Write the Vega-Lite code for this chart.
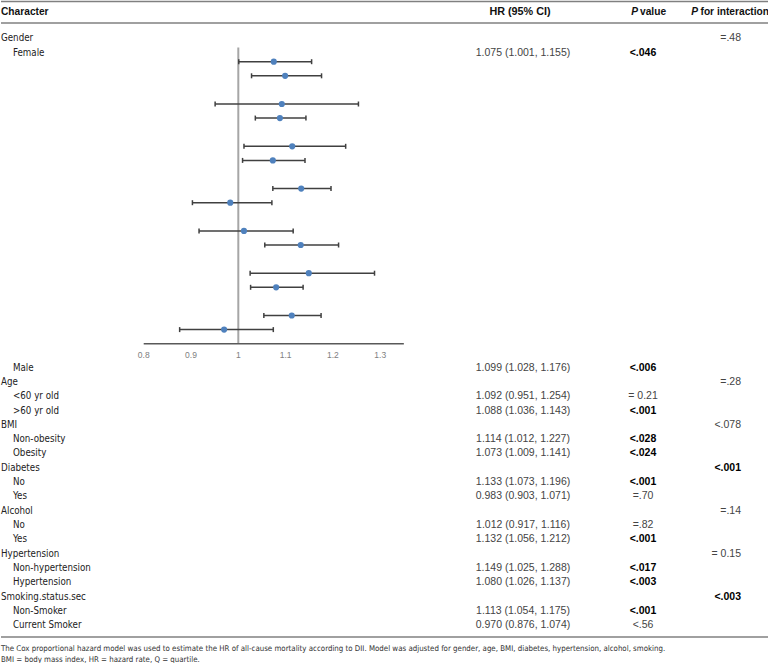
{
  "$schema": "https://vega.github.io/schema/vega-lite/v6.json",
  "width": 768,
  "height": 663,
  "autosize": {"type": "pad"},
  "padding": 0,
  "background": "white",
  "config": {"view": {"stroke": null}, "axis": {"disable": true}},
  "datasets": {
    "rows": [
      {"u": 1, "label": "Gender", "level": "group", "pint": "=.48", "pintBold": false},
      {"u": 2, "label": "Female", "level": "sub", "ci": "1.075 (1.001, 1.155)", "p": "<.046", "pBold": true, "hr": 1.075, "lo": 1.001, "hi": 1.155, "slot": 0},
      {"u": 24, "label": "Male", "level": "sub", "ci": "1.099 (1.028, 1.176)", "p": "<.006", "pBold": true, "hr": 1.099, "lo": 1.028, "hi": 1.176, "slot": 1},
      {"u": 25, "label": "Age", "level": "group", "pint": "=.28", "pintBold": false},
      {"u": 26, "label": "<60 yr old", "level": "sub", "ci": "1.092 (0.951, 1.254)", "p": "= 0.21", "pBold": false, "hr": 1.092, "lo": 0.951, "hi": 1.254, "slot": 3},
      {"u": 27, "label": ">60 yr old", "level": "sub", "ci": "1.088 (1.036, 1.143)", "p": "<.001", "pBold": true, "hr": 1.088, "lo": 1.036, "hi": 1.143, "slot": 4},
      {"u": 28, "label": "BMI", "level": "group", "pint": "<.078", "pintBold": false},
      {"u": 29, "label": "Non-obesity", "level": "sub", "ci": "1.114 (1.012, 1.227)", "p": "<.028", "pBold": true, "hr": 1.114, "lo": 1.012, "hi": 1.227, "slot": 6},
      {"u": 30, "label": "Obesity", "level": "sub", "ci": "1.073 (1.009, 1.141)", "p": "<.024", "pBold": true, "hr": 1.073, "lo": 1.009, "hi": 1.141, "slot": 7},
      {"u": 31, "label": "Diabetes", "level": "group", "pint": "<.001", "pintBold": true},
      {"u": 32, "label": "No", "level": "sub", "ci": "1.133 (1.073, 1.196)", "p": "<.001", "pBold": true, "hr": 1.133, "lo": 1.073, "hi": 1.196, "slot": 9},
      {"u": 33, "label": "Yes", "level": "sub", "ci": "0.983 (0.903, 1.071)", "p": "=.70", "pBold": false, "hr": 0.983, "lo": 0.903, "hi": 1.071, "slot": 10},
      {"u": 34, "label": "Alcohol", "level": "group", "pint": "=.14", "pintBold": false},
      {"u": 35, "label": "No", "level": "sub", "ci": "1.012 (0.917, 1.116)", "p": "=.82", "pBold": false, "hr": 1.012, "lo": 0.917, "hi": 1.116, "slot": 12},
      {"u": 36, "label": "Yes", "level": "sub", "ci": "1.132 (1.056, 1.212)", "p": "<.001", "pBold": true, "hr": 1.132, "lo": 1.056, "hi": 1.212, "slot": 13},
      {"u": 37, "label": "Hypertension", "level": "group", "pint": "= 0.15", "pintBold": false},
      {"u": 38, "label": "Non-hypertension", "level": "sub", "ci": "1.149 (1.025, 1.288)", "p": "<.017", "pBold": true, "hr": 1.149, "lo": 1.025, "hi": 1.288, "slot": 15},
      {"u": 39, "label": "Hypertension", "level": "sub", "ci": "1.080 (1.026, 1.137)", "p": "<.003", "pBold": true, "hr": 1.080, "lo": 1.026, "hi": 1.137, "slot": 16},
      {"u": 40, "label": "Smoking.status.sec", "level": "group", "pint": "<.003", "pintBold": true},
      {"u": 41, "label": "Non-Smoker", "level": "sub", "ci": "1.113 (1.054, 1.175)", "p": "<.001", "pBold": true, "hr": 1.113, "lo": 1.054, "hi": 1.175, "slot": 18},
      {"u": 42, "label": "Current Smoker", "level": "sub", "ci": "0.970 (0.876, 1.074)", "p": "<.56", "pBold": false, "hr": 0.970, "lo": 0.876, "hi": 1.074, "slot": 19}
    ],
    "lines": [{"u": -1.56}, {"u": -0.06}, {"u": 42.82}],
    "notes": [
      {"u": 43.67, "text": "The Cox proportional hazard model was used to estimate the HR of all-cause mortality according to DII. Model was adjusted for gender, age, BMI, diabetes, hypertension, alcohol, smoking."},
      {"u": 44.45, "text": "BMI = body mass index, HR = hazard rate, Q = quartile."}
    ],
    "ticks": [{"t": 0.8}, {"t": 0.9}, {"t": 1.0}, {"t": 1.1}, {"t": 1.2}, {"t": 1.3}],
    "one": [{}]
  },
  "layer": [
    {
      "layer": [
        {
          "data": {"name": "lines"},
          "mark": {"type": "rule", "color": "#808080", "strokeWidth": 1.5},
          "encoding": {
            "y": {"field": "u", "type": "quantitative", "scale": {"domain": [-1.666, 44.63], "reverse": true, "nice": false, "zero": false}, "axis": null}
          }
        },
        {
          "data": {"name": "rows"},
          "transform": [{"filter": "datum.level === 'group'"}],
          "mark": {"type": "text", "align": "left", "baseline": "middle", "font": "DejaVu Sans Condensed, DejaVu Sans, sans-serif", "fontSize": 9.7, "color": "#222222"},
          "encoding": {
            "x": {"datum": 0, "type": "quantitative", "scale": {"domain": [0, 1, 2, 3], "range": [0, 522, 642, 740], "nice": false, "zero": false}, "axis": null},
            "y": {"field": "u", "type": "quantitative"},
            "text": {"field": "label"}
          }
        },
        {
          "data": {"name": "rows"},
          "transform": [{"filter": "datum.level === 'sub'"}],
          "mark": {"type": "text", "align": "left", "baseline": "middle", "dx": 12, "font": "DejaVu Sans Condensed, DejaVu Sans, sans-serif", "fontSize": 9.7, "color": "#222222"},
          "encoding": {
            "x": {"datum": 0, "type": "quantitative"},
            "y": {"field": "u", "type": "quantitative"},
            "text": {"field": "label"}
          }
        },
        {
          "data": {"name": "rows"},
          "transform": [{"filter": "isValid(datum.ci)"}],
          "mark": {"type": "text", "align": "center", "baseline": "middle", "font": "Liberation Sans, Arial, sans-serif", "fontSize": 10.5, "color": "#444444"},
          "encoding": {
            "x": {"datum": 1, "type": "quantitative"},
            "y": {"field": "u", "type": "quantitative"},
            "text": {"field": "ci"}
          }
        },
        {
          "data": {"name": "rows"},
          "transform": [{"filter": "isValid(datum.p) && !datum.pBold"}],
          "mark": {"type": "text", "align": "center", "baseline": "middle", "font": "Liberation Sans, Arial, sans-serif", "fontSize": 10.5, "color": "#444444"},
          "encoding": {
            "x": {"datum": 2, "type": "quantitative"},
            "y": {"field": "u", "type": "quantitative"},
            "text": {"field": "p"}
          }
        },
        {
          "data": {"name": "rows"},
          "transform": [{"filter": "isValid(datum.p) && datum.pBold"}],
          "mark": {"type": "text", "align": "center", "baseline": "middle", "font": "Liberation Sans, Arial, sans-serif", "fontSize": 10.5, "fontWeight": "bold", "color": "#000000"},
          "encoding": {
            "x": {"datum": 2, "type": "quantitative"},
            "y": {"field": "u", "type": "quantitative"},
            "text": {"field": "p"}
          }
        },
        {
          "data": {"name": "rows"},
          "transform": [{"filter": "isValid(datum.pint) && !datum.pintBold"}],
          "mark": {"type": "text", "align": "right", "baseline": "middle", "font": "Liberation Sans, Arial, sans-serif", "fontSize": 10.5, "color": "#444444"},
          "encoding": {
            "x": {"datum": 3, "type": "quantitative"},
            "y": {"field": "u", "type": "quantitative"},
            "text": {"field": "pint"}
          }
        },
        {
          "data": {"name": "rows"},
          "transform": [{"filter": "isValid(datum.pint) && datum.pintBold"}],
          "mark": {"type": "text", "align": "right", "baseline": "middle", "font": "Liberation Sans, Arial, sans-serif", "fontSize": 10.5, "fontWeight": "bold", "color": "#000000"},
          "encoding": {
            "x": {"datum": 3, "type": "quantitative"},
            "y": {"field": "u", "type": "quantitative"},
            "text": {"field": "pint"}
          }
        },
        {
          "data": {"name": "one"},
          "mark": {"type": "text", "align": "left", "baseline": "middle", "font": "Liberation Sans, Arial, sans-serif", "fontSize": 10.2, "fontWeight": "bold", "color": "#111111"},
          "encoding": {"x": {"datum": 0, "type": "quantitative"}, "y": {"datum": -0.83, "type": "quantitative"}, "text": {"value": "Character"}}
        },
        {
          "data": {"name": "one"},
          "mark": {"type": "text", "align": "center", "baseline": "middle", "dx": -3, "font": "Liberation Sans, Arial, sans-serif", "fontSize": 10.8, "fontWeight": "bold", "color": "#111111"},
          "encoding": {"x": {"datum": 1, "type": "quantitative"}, "y": {"datum": -0.83, "type": "quantitative"}, "text": {"value": "HR (95% CI)"}}
        },
        {
          "data": {"name": "one"},
          "mark": {"type": "text", "align": "right", "baseline": "middle", "dx": -5, "font": "Liberation Sans, Arial, sans-serif", "fontSize": 10.2, "fontWeight": "bold", "fontStyle": "italic", "color": "#111111"},
          "encoding": {"x": {"datum": 2, "type": "quantitative"}, "y": {"datum": -0.83, "type": "quantitative"}, "text": {"value": "P"}}
        },
        {
          "data": {"name": "one"},
          "mark": {"type": "text", "align": "left", "baseline": "middle", "dx": -3, "font": "Liberation Sans, Arial, sans-serif", "fontSize": 10.2, "fontWeight": "bold", "color": "#111111"},
          "encoding": {"x": {"datum": 2, "type": "quantitative"}, "y": {"datum": -0.83, "type": "quantitative"}, "text": {"value": "value"}}
        },
        {
          "data": {"name": "one"},
          "mark": {"type": "text", "align": "right", "baseline": "middle", "dx": -43, "font": "Liberation Sans, Arial, sans-serif", "fontSize": 10.2, "fontWeight": "bold", "fontStyle": "italic", "color": "#111111"},
          "encoding": {"x": {"datum": 3, "type": "quantitative"}, "y": {"datum": -0.83, "type": "quantitative"}, "text": {"value": "P"}}
        },
        {
          "data": {"name": "one"},
          "mark": {"type": "text", "align": "right", "baseline": "middle", "dx": 28, "font": "Liberation Sans, Arial, sans-serif", "fontSize": 10.2, "fontWeight": "bold", "color": "#111111"},
          "encoding": {"x": {"datum": 3, "type": "quantitative"}, "y": {"datum": -0.83, "type": "quantitative"}, "text": {"value": "for interaction"}}
        },
        {
          "data": {"name": "notes"},
          "mark": {"type": "text", "align": "left", "baseline": "middle", "font": "DejaVu Sans Condensed, DejaVu Sans, sans-serif", "fontSize": 7.85, "color": "#333333"},
          "encoding": {"x": {"datum": 0, "type": "quantitative"}, "y": {"field": "u", "type": "quantitative"}, "text": {"field": "text"}}
        }
      ]
    },
    {
      "layer": [
        {
          "data": {"name": "one"},
          "mark": {"type": "rule", "color": "#a6a6a6", "strokeWidth": 2},
          "encoding": {
            "x": {"datum": 1, "type": "quantitative", "scale": {"domain": [0.4983, 2.122], "nice": false, "zero": false}, "axis": null},
            "y": {"datum": -1, "type": "quantitative", "scale": {"domain": [-4.376, 42.645], "reverse": true, "nice": false, "zero": false}, "axis": null},
            "y2": {"datum": 20}
          }
        },
        {
          "data": {"name": "one"},
          "mark": {"type": "rule", "color": "#595959", "strokeWidth": 1.5},
          "encoding": {
            "x": {"datum": 0.8, "type": "quantitative"},
            "x2": {"datum": 1.35},
            "y": {"datum": 20, "type": "quantitative"}
          }
        },
        {
          "data": {"name": "ticks"},
          "mark": {"type": "text", "align": "center", "baseline": "middle", "font": "Liberation Sans, Arial, sans-serif", "fontSize": 8.5, "color": "#808080"},
          "encoding": {
            "x": {"field": "t", "type": "quantitative"},
            "y": {"datum": 20.8, "type": "quantitative"},
            "text": {"field": "t", "type": "quantitative", "format": "~g"}
          }
        },
        {
          "data": {"name": "rows"},
          "transform": [{"filter": "isValid(datum.hr)"}],
          "mark": {"type": "rule", "color": "#404040", "strokeWidth": 1.5},
          "encoding": {
            "x": {"field": "lo", "type": "quantitative"},
            "x2": {"field": "hi"},
            "y": {"field": "slot", "type": "quantitative"}
          }
        },
        {
          "data": {"name": "rows"},
          "transform": [{"filter": "isValid(datum.hr)"}],
          "mark": {"type": "tick", "orient": "vertical", "size": 5, "thickness": 1.5, "color": "#404040", "opacity": 1},
          "encoding": {
            "x": {"field": "lo", "type": "quantitative"},
            "y": {"field": "slot", "type": "quantitative"}
          }
        },
        {
          "data": {"name": "rows"},
          "transform": [{"filter": "isValid(datum.hr)"}],
          "mark": {"type": "tick", "orient": "vertical", "size": 5, "thickness": 1.5, "color": "#404040", "opacity": 1},
          "encoding": {
            "x": {"field": "hi", "type": "quantitative"},
            "y": {"field": "slot", "type": "quantitative"}
          }
        },
        {
          "data": {"name": "rows"},
          "transform": [{"filter": "isValid(datum.hr)"}],
          "mark": {"type": "circle", "size": 38, "color": "#4F81BD", "opacity": 1},
          "encoding": {
            "x": {"field": "hr", "type": "quantitative"},
            "y": {"field": "slot", "type": "quantitative"}
          }
        }
      ]
    }
  ],
  "resolve": {"scale": {"x": "independent", "y": "independent"}}
}
